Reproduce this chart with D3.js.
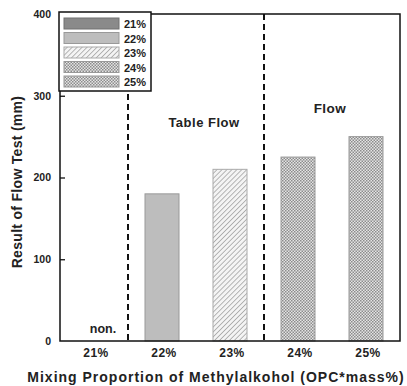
<!DOCTYPE html>
<html><head><meta charset="utf-8">
<script src="https://cdn.jsdelivr.net/npm/d3@7"></script>
<style>body{margin:0;background:#fff;}svg{display:block;font-family:"Liberation Sans",Arial,sans-serif;font-weight:bold;}</style>
</head><body><div id="chart"></div>
<script>
const categories = ["21%","22%","23%","24%","25%"];
const values = [0, 180, 210, 225, 250];
const yTicks = [0,100,200,300,400];
const legendLabels = ["21%","22%","23%","24%","25%"];
const regionLabels = ["Table Flow","Flow"];

const W=407,H=386;
const m={left:60,right:7,top:14,bottom:45};
const svg=d3.select("#chart").append("svg").attr("width",W).attr("height",H);
const defs=svg.append("defs");
// hatch pattern
const ph=defs.append("pattern").attr("id","hatch").attr("patternUnits","userSpaceOnUse").attr("width",3.5).attr("height",3.5).attr("patternTransform","rotate(45)");
ph.append("rect").attr("width",3.5).attr("height",3.5).attr("fill","#f4f4f4");
ph.append("line").attr("x1",0).attr("y1",0).attr("x2",0).attr("y2",3.5).attr("stroke","#a0a0a0").attr("stroke-width",1.5);
// checker pattern
const pc=defs.append("pattern").attr("id","check").attr("patternUnits","userSpaceOnUse").attr("width",3).attr("height",3);
pc.append("rect").attr("width",3).attr("height",3).attr("fill","#e4e4e4");
pc.append("rect").attr("width",1.5).attr("height",1.5).attr("fill","#8c8c8c");
pc.append("rect").attr("x",1.5).attr("y",1.5).attr("width",1.5).attr("height",1.5).attr("fill","#8c8c8c");

const fills=["#8a8a8a","#bdbdbd","url(#hatch)","url(#check)","url(#check)"];
const strokes=["#707070","#999","#aaa","#999","#999"];

const x=d3.scaleBand().domain(categories).range([m.left,W-m.right]).paddingInner(0.5).paddingOuter(0.25);
const y=d3.scaleLinear().domain([0,400]).range([H-m.bottom,m.top]);

// bars
svg.append("g").selectAll("rect").data(categories.map((c,i)=>({c,v:values[i],i}))).join("rect")
 .filter(d=>d.v>0)
 .attr("x",d=>x(d.c)).attr("width",x.bandwidth())
 .attr("y",d=>y(d.v)).attr("height",d=>y(0)-y(d.v))
 .attr("fill",d=>fills[d.i]).attr("stroke",d=>strokes[d.i]).attr("stroke-width",1);

// dashed separators
const step=x.step();
const sep=[x("22%")-(step-x.bandwidth())/2, x("24%")-(step-x.bandwidth())/2];
svg.append("g").selectAll("line").data(sep).join("line")
 .attr("x1",d=>d).attr("x2",d=>d).attr("y1",y(400)).attr("y2",y(0))
 .attr("stroke","#111").attr("stroke-width",2).attr("stroke-dasharray","6,4");

// frame
svg.append("rect").attr("x",m.left).attr("y",m.top).attr("width",W-m.right-m.left).attr("height",y(0)-m.top)
 .attr("fill","none").attr("stroke","#111").attr("stroke-width",1.5);

// y axis
const ya=svg.append("g").attr("transform",`translate(${m.left},0)`)
 .call(d3.axisLeft(y).tickValues(yTicks).tickSize(-5).tickPadding(9));
ya.select(".domain").remove();
ya.selectAll("line").attr("stroke","#111").attr("stroke-width",1.3);
ya.selectAll("text").attr("font-size",10.5).attr("font-weight","bold").attr("fill","#222").attr("font-family","Liberation Sans, Arial");
ya.selectAll(".tick").filter(d=>d===0||d===400).select("line").remove();

// x labels
svg.append("g").selectAll("text").data(categories).join("text")
 .attr("x",d=>x(d)+x.bandwidth()/2+2).attr("y",y(0)+16)
 .attr("text-anchor","middle").attr("font-size",12).attr("letter-spacing",0.5).attr("fill","#222").text(d=>d);

// non.
svg.append("text").attr("x",x("21%")+x.bandwidth()/2+9).attr("y",y(0)-8).attr("text-anchor","middle")
 .attr("font-size",12.5).attr("fill","#222").text("non.");

// region labels
svg.append("text").attr("x",(sep[0]+sep[1])/2+8).attr("y",y(262)).attr("text-anchor","middle").attr("font-size",13).attr("letter-spacing",0.5).attr("fill","#222").text(regionLabels[0]);
svg.append("text").attr("x",(sep[1]+W-m.right)/2-2).attr("y",y(279)).attr("text-anchor","middle").attr("font-size",13.5).attr("letter-spacing",0.5).attr("fill","#222").text(regionLabels[1]);

// axis titles
svg.append("text").attr("x",216).attr("y",382).attr("text-anchor","middle").attr("font-size",14).attr("letter-spacing",1).attr("fill","#222")
 .text("Mixing Proportion of Methylalkohol (OPC*mass%)");
svg.append("text").attr("transform",`translate(22,182) rotate(-90)`).attr("text-anchor","middle").attr("font-size",14).attr("letter-spacing",0.3).attr("fill","#222")
 .text("Result of Flow Test (mm)");

// legend
const lg=svg.append("g");
lg.append("rect").attr("x",59).attr("y",12).attr("width",92).attr("height",79).attr("fill","#fff").attr("stroke","#111").attr("stroke-width",1.5);
legendLabels.forEach((l,i)=>{
  const yy=18+i*14.5;
  lg.append("rect").attr("x",64).attr("y",yy).attr("width",55).attr("height",11).attr("fill",fills[i]).attr("stroke",strokes[i]).attr("stroke-width",1);
  lg.append("text").attr("x",124).attr("y",yy+10).attr("font-size",11).attr("fill","#222").text(l);
});
</script></body></html>
